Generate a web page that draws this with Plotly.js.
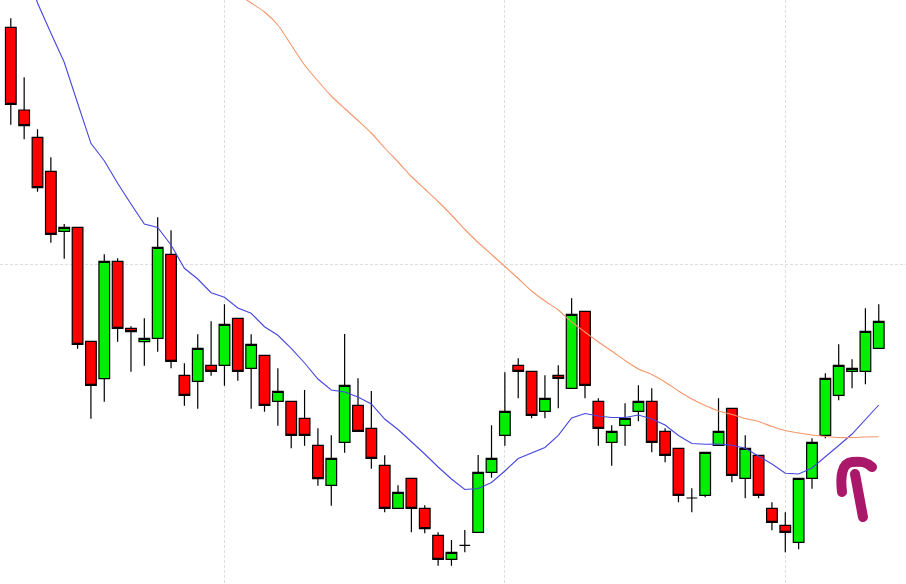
<!DOCTYPE html>
<html>
<head>
<meta charset="utf-8">
<script src="https://cdn.plot.ly/plotly-3.0.1.min.js"></script>
<style>html,body{margin:0;padding:0;background:#fff;}#chart{width:906px;height:584px;}</style>
</head>
<body>
<div id="chart"></div>
<script>
// Bar index (trading sessions)
const idx = Array.from({length: 66}, (_, i) => i);

const openP = [572.7,490,462.7,428.7,368.7,372.7,258.7,221.3,338.7,271.7,258.3,261.7,345.7,224.7,218.7,234.7,234.7,281.7,231.7,244.7,198.7,198.7,181.7,154.7,114.7,157.7,194.7,171.7,134.7,91.7,121.7,91.7,64.7,40.7,54.7,67.7,127.7,164.7,234.7,228.7,188.7,224.7,211.7,288.7,198.7,157.7,174.7,188.7,198.7,168.7,151.7,102,104.7,154.7,191.7,121.7,144.7,91.7,74.7,57.7,121.7,164.7,204.7,228.7,228.7,251.7];
const highP = [581.7,522.7,470.7,442.7,376,372.7,258.7,345.7,341.7,273.7,281.7,382.7,369.7,236.7,265.7,278.7,295.7,281.7,265.7,244.7,231.7,198.7,210,171.7,164.7,266,221.7,209,144.7,114.7,121.7,94.7,67.7,60,70,145,174.7,227.7,241.7,228.7,224.7,234.7,301.7,288.7,201.7,174.7,196.7,214.7,211.7,171.7,151.7,111.7,147.7,201.7,191.7,164.7,144.7,97.7,87.7,121.7,161.7,226.7,255.7,240.7,291.7,295.7];
const lowP = [475.3,460.7,408.3,357.3,341.3,251.3,181.3,198.3,258.3,228.3,234.3,248.3,231.7,194.3,191.3,224.3,214.3,219.3,191.3,188.3,174.3,151.7,154.3,114.3,94.3,147.3,168.7,131.3,87.7,91.7,67.7,66.7,34.3,34.3,47.7,67.7,122.3,154.3,201.7,181.7,181.7,191.7,211.7,201.7,154.3,134.3,154.3,178.7,147.7,137.7,97.7,87.7,102.7,154.7,117.7,101.7,101.7,69.7,47.7,50.7,111.3,161.7,199.7,211.7,215.7,251.7];
const closeP = [495.7,474.3,412.3,365.7,372.7,255.7,214.7,338.7,271.7,268.3,261.7,352.7,238.7,204.7,251.7,228.7,275.7,228.7,255.7,194.7,208.7,164.7,164.7,121.3,141.7,214.7,168.7,141.7,91.7,107.7,91.7,71.3,40.7,47.7,54.7,127.7,141.7,188.7,228.7,184.7,201.7,221.7,285.7,214.7,171.7,168.7,181.7,198.7,157.7,144.7,104.7,102,147.7,168.7,124.7,151.7,104.7,77.7,67.7,121.7,157.7,221.7,234.7,231.7,268.7,278.7];

// Short moving average (blue)
const maShort = [null,640,597,567,537.7,497,456.7,439.3,416.7,396,376,372.5,355,331.7,321,307.3,302.7,292,286.7,273.3,264.7,251.7,237,221,210,208,203,196,181,170.5,158.5,146,133,121,110.5,111.5,117.5,129,141.5,147,152.5,164.7,182,186.5,184,182.5,182.5,185,181,175,164.5,156.5,155.7,156,154.7,151.7,144,136,126.7,126,132,143,154.5,166,180,195];
// Long moving average (orange)
const maLong = [null,null,null,null,null,null,null,null,null,null,null,null,null,null,null,null,null,606,597,588,575,555,535,519,504,491.5,479.5,467,452,438,423.5,411,398.5,385,370.5,357.5,345.5,333.5,321.5,309,299,290,278,268,258,249,239.5,231,225.5,218,209,201,194.5,189,185.5,181.5,178.5,173.5,169.5,167,165,163.5,162.5,162.5,163,163.3];

const W = 906, H = 584;
function px(x, y) { return (x / W).toFixed(4) + ',' + (1 - y / H).toFixed(4); }

const traces = [
  {
    type: 'candlestick', x: idx, open: openP, high: highP, low: lowP, close: closeP,
    increasing: {line: {color: '#000000', width: 1.2}, fillcolor: '#00f000'},
    decreasing: {line: {color: '#000000', width: 1.2}, fillcolor: '#ff0000'},
    whiskerwidth: 0, hoverinfo: 'skip', showlegend: false
  },
  {
    type: 'scatter', mode: 'lines', x: idx, y: maShort,
    line: {color: 'rgb(70,70,225)', width: 1.1}, hoverinfo: 'skip', showlegend: false
  },
  {
    type: 'scatter', mode: 'lines', x: idx, y: maLong, line: {color: 'rgb(245,150,105)', width: 1.1, shape: 'spline', smoothing: 0.6},
    hoverinfo: 'skip', showlegend: false
  }
];

const arrowColor = 'rgb(170,25,105)';
const layout = {
  width: W, height: H,
  margin: {l: 0, r: 0, t: 0, b: 0, pad: 0},
  paper_bgcolor: '#ffffff', plot_bgcolor: '#ffffff',
  showlegend: false,
  boxgap: 0.2, boxgroupgap: 0,
  xaxis: {
    range: [-0.809, 67.04], rangeslider: {visible: false},
    showticklabels: false, ticks: '', zeroline: false, showline: false,
    tickmode: 'array', tickvals: [16, 37, 58],
    showgrid: true, gridcolor: '#dedede', gridwidth: 1, griddash: '3px,2px'
  },
  yaxis: {
    range: [16, 600],
    showticklabels: false, ticks: '', zeroline: false, showline: false,
    tickmode: 'array', tickvals: [336],
    showgrid: true, gridcolor: '#dedede', gridwidth: 1, griddash: '3px,2px'
  },
  shapes: [
    {type: 'path', xref: 'paper', yref: 'paper', layer: 'above',
     path: 'M' + px(863, 517) + ' Q' + px(859, 495) + ' ' + px(855, 474),
     line: {color: arrowColor, width: 10}},
    {type: 'path', xref: 'paper', yref: 'paper', layer: 'above',
     path: 'M' + px(842, 492) + ' C' + px(840, 476) + ' ' + px(842, 463) + ' ' + px(852, 462) + ' S' + px(866, 462) + ' ' + px(872, 467),
     line: {color: arrowColor, width: 10}}
  ]
};

Plotly.newPlot('chart', traces, layout, {displayModeBar: false, staticPlot: true}).then(function () {
  document.querySelectorAll('.shapelayer path').forEach(function (p) {
    p.style.strokeLinecap = 'round';
    p.style.strokeLinejoin = 'round';
  });
});
</script>
</body>
</html>
